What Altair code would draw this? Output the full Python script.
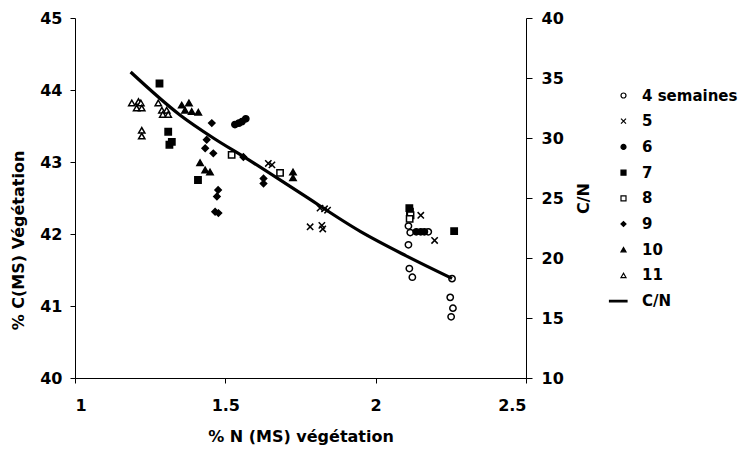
import altair as alt
import pandas as pd

# ---- data ----
series_names = ["4 semaines", "5", "6", "7", "8", "9", "10", "11", "C/N"]

n4 = [2.109, 2.115, 2.175, 2.109, 2.112, 2.122, 2.254, 2.248, 2.257, 2.251]
c4 = [42.11, 42.02, 42.03, 41.85, 41.52, 41.40, 41.38, 41.12, 40.97, 40.85]

n5 = [1.643, 1.655, 1.815, 1.830, 1.840, 1.782, 1.821, 1.824, 2.150, 2.196]
c5 = [42.98, 42.96, 42.36, 42.35, 42.33, 42.10, 42.12, 42.07, 42.26, 41.91]

n6 = [1.532, 1.545, 1.555, 1.568, 2.135, 2.150, 2.162]
c6 = [43.52, 43.54, 43.56, 43.60, 42.03, 42.03, 42.03]

n7 = [1.281, 1.310, 1.322, 1.314, 1.409, 2.112, 2.114, 2.261]
c7 = [44.09, 43.42, 43.28, 43.24, 42.75, 42.36, 42.31, 42.04]

n8 = [1.521, 1.682, 2.116, 2.113]
c8 = [43.10, 42.85, 42.26, 42.21]

n9 = [1.455, 1.438, 1.433, 1.460, 1.560, 1.476, 1.472, 1.466, 1.477, 1.627, 1.627]
c9 = [43.54, 43.31, 43.19, 43.12, 43.07, 42.61, 42.52, 42.31, 42.29, 42.77, 42.70]

n10 = [1.355, 1.379, 1.388, 1.410, 1.366, 1.416, 1.433, 1.449, 1.725, 1.725]
c10 = [43.79, 43.82, 43.70, 43.69, 43.72, 42.99, 42.89, 42.86, 42.86, 42.78]

n11 = [1.189, 1.211, 1.219, 1.205, 1.222, 1.277, 1.289, 1.305, 1.292, 1.310, 1.222, 1.222]
c11 = [43.82, 43.84, 43.82, 43.75, 43.75, 43.82, 43.72, 43.72, 43.66, 43.66, 43.44, 43.36]

n_line = [1.185, 1.35, 1.46, 1.57, 1.75, 1.95, 2.10, 2.254]
cn_line = [35.5, 31.9, 30.0, 28.3, 25.4, 22.2, 20.2, 18.3]

x_ticks = [1, 1.5, 2, 2.5]
y_ticks = [40, 41, 42, 43, 44, 45]
cn_ticks = [10, 15, 20, 25, 30, 35, 40]

# ---- tables ----
rows = []
for name, ns, cs in [("4 semaines", n4, c4), ("5", n5, c5), ("6", n6, c6),
                     ("7", n7, c7), ("8", n8, c8), ("9", n9, c9),
                     ("10", n10, c10), ("11", n11, c11)]:
    for n, c in zip(ns, cs):
        rows.append({"N": n, "C": c, "serie": name})
pts = pd.DataFrame(rows)
line_df = pd.DataFrame({"N": n_line, "CN": cn_line})

FONT = "DejaVu Sans"

shapes = ["circle",
          "M-1,-1L1,1M-1,1L1,-1",
          "circle",
          "square",
          "square",
          "diamond",
          "triangle-up",
          "triangle-up",
          "M-5.6,-0.3L1.4,-0.3L1.4,0.3L-5.6,0.3Z"]
fills = ["white", "black", "black", "black", "white", "black", "black", "white", "black"]
strokes = ["black"] * len(series_names)

leg = alt.Legend(title=None, orient="none", legendX=541, legendY=70)

xenc = alt.X("N:Q", scale=alt.Scale(domain=[1, 2.5], nice=False, zero=False),
             axis=alt.Axis(values=x_ticks, format="~g", title="% N (MS) végétation",
                           grid=False, tickSize=5, labelPadding=14, titlePadding=15,
                           domainColor="black", tickColor="black"))

points = alt.Chart(pts).mark_point(filled=True, size=40, strokeWidth=1.5,
                                   opacity=1).encode(
    x=xenc,
    y=alt.Y("C:Q", scale=alt.Scale(domain=[40, 45], nice=False, zero=False),
            axis=alt.Axis(values=y_ticks, title="% C(MS) Végétation", grid=False,
                          tickSize=5, labelPadding=8, titleY=222, titlePadding=13,
                          domainColor="black", tickColor="black")),
    shape=alt.Shape("serie:N", scale=alt.Scale(domain=series_names, range=shapes),
                    legend=leg),
    fill=alt.Fill("serie:N", scale=alt.Scale(domain=series_names, range=fills),
                  legend=leg),
    stroke=alt.Stroke("serie:N", scale=alt.Scale(domain=series_names, range=strokes),
                      legend=leg),
)

line = alt.Chart(line_df).mark_line(color="black", strokeWidth=3.2,
                                    interpolate="monotone").encode(
    x=alt.X("N:Q"),
    y=alt.Y("CN:Q", scale=alt.Scale(domain=[10, 40], nice=False, zero=False),
            axis=alt.Axis(orient="right", values=cn_ticks, title="C/N", grid=False,
                          tickSize=6, labelPadding=9, titleAngle=270, titlePadding=28,
                          domainColor="black", tickColor="black")),
)

chart = alt.layer(points, line).resolve_scale(y="independent").properties(
    width=451, height=360,
    padding={"left": 75, "top": 18, "right": 212, "bottom": 72},
    autosize="none",
).configure_view(stroke=None).configure_axis(
    labelFont=FONT, labelFontSize=16, labelFontWeight="bold", labelColor="black",
    titleFont=FONT, titleFontSize=16, titleFontWeight="bold", titleColor="black",
).configure_legend(
    labelFont=FONT, labelFontSize=15, labelFontWeight="bold", labelColor="black",
    symbolSize=25, symbolStrokeWidth=1.2, labelLimit=200,
    rowPadding=9.7, labelOffset=11, padding=0,
)

chart.save("out.html", embed_options={"renderer": "svg", "actions": False})
